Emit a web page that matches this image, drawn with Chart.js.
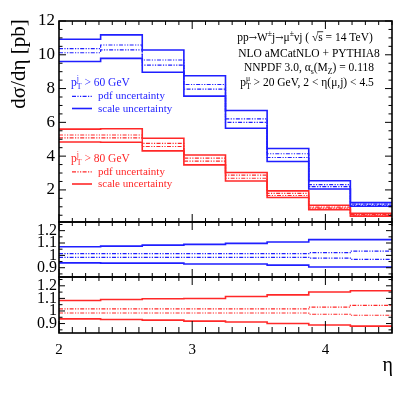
<!DOCTYPE html>
<html>
<head>
<meta charset="utf-8">
<script src="https://cdn.jsdelivr.net/npm/chart.js@4/dist/chart.umd.min.js"></script>
<style>
  html, body { margin: 0; padding: 0; background: #fff; }
  #wrap { position: relative; width: 415px; height: 399px; }
  #wrap canvas { position: absolute; left: 0; top: 0; }
</style>
</head>
<body>
<div id="wrap">
  <canvas id="cTop" width="415" height="399"></canvas>
  <canvas id="cMid" width="415" height="399"></canvas>
  <canvas id="cBot" width="415" height="399"></canvas>
</div>
<script>
// bin edges in eta (8 bins)
const edges = [2, 2.3125, 2.625, 2.9375, 3.25, 3.5625, 3.875, 4.1875, 4.5];
const xTicks = [2, 3, 4];
const yTicksTop = [2, 4, 6, 8, 10, 12];
const yTicksRatio = [0.9, 1, 1.1, 1.2];

// pT(j) > 60 GeV, dsigma/deta [pb]
const scaleUp60 = [10.92, 11.18, 10.28, 8.76, 6.70, 4.45, 2.54, 1.25];
const scaleDn60 = [9.60, 9.79, 8.97, 7.55, 5.65, 3.68, 2.05, 1.03];
const pdfUp60   = [10.37, 10.58, 9.69, 8.24, 6.20, 4.14, 2.31, 1.16];
const pdfDn60   = [10.12, 10.29, 9.39, 7.97, 6.00, 3.92, 2.20, 1.09];

// pT(j) > 80 GeV
const scaleUp80 = [5.60, 5.62, 5.06, 4.07, 3.03, 1.94, 1.09, 0.61];
const scaleDn80 = [4.84, 4.82, 4.31, 3.48, 2.53, 1.55, 0.83, 0.45];
const pdfUp80   = [5.25, 5.25, 4.75, 3.88, 2.87, 1.79, 0.98, 0.55];
const pdfDn80   = [5.08, 5.08, 4.57, 3.70, 2.69, 1.67, 0.92, 0.50];

// ratios to central value
const rScaleUp60 = [1.070, 1.075, 1.083, 1.089, 1.097, 1.108, 1.127, 1.127];
const rScaleDn60 = [0.939, 0.937, 0.937, 0.930, 0.930, 0.921, 0.906, 0.906];
const rPdfUp60   = [1.014, 1.014, 1.014, 1.014, 1.014, 1.014, 1.022, 1.034];
const rPdfDn60   = [0.984, 0.984, 0.984, 0.984, 0.984, 0.984, 0.978, 0.968];

const rScaleUp80 = [1.083, 1.091, 1.097, 1.099, 1.115, 1.128, 1.151, 1.161];
const rScaleDn80 = [0.937, 0.932, 0.927, 0.919, 0.913, 0.901, 0.888, 0.880];
const rPdfUp80   = [1.016, 1.016, 1.016, 1.016, 1.016, 1.016, 1.031, 1.044];
const rPdfDn80   = [0.984, 0.984, 0.984, 0.984, 0.984, 0.984, 0.974, 0.966];

const FONT = '"Liberation Serif", "Times New Roman", serif';
const ARROW_FONT = '"DejaVu Serif", serif';
const BLUE = '#1f1fff';
const RED = '#ff2828';
const PDF_DASH = [4, 1.4, 1.2, 1.4, 1.2, 1.4];

function steps(vals) {
  const pts = vals.map((v, i) => ({ x: edges[i], y: v }));
  pts.push({ x: edges[edges.length - 1], y: vals[vals.length - 1] });
  return pts;
}

function line(vals, color, pdf) {
  return {
    data: steps(vals),
    borderColor: color,
    borderWidth: pdf ? 1.2 : 1.6,
    borderDash: pdf ? PDF_DASH : [],
    stepped: true,
    pointRadius: 0,
    fill: false
  };
}

// text with sub/superscripts; y is the baseline
function rich(ctx, segs, x, y, size, align, color) {
  const small = size * 0.68;
  const f = (s, fam) => s.toFixed(1) + 'px ' + (fam || FONT);
  const setFont = s => { ctx.font = s.arrow ? f(size * 0.85, ARROW_FONT) : f(size); };
  const widths = segs.map(s => {
    if (s.t !== undefined) { setFont(s); return ctx.measureText(s.t).width; }
    ctx.font = f(small);
    return Math.max(ctx.measureText(s.sub || '').width, ctx.measureText(s.sup || '').width);
  });
  const total = widths.reduce((a, b) => a + b, 0);
  let cx = align === 'center' ? x - total / 2 : x;
  ctx.fillStyle = color;
  ctx.strokeStyle = color;
  ctx.textAlign = 'left';
  ctx.textBaseline = 'alphabetic';
  segs.forEach((s, i) => {
    if (s.t !== undefined) {
      setFont(s);
      ctx.fillText(s.t, cx, y);
      if (s.bar) {
        ctx.lineWidth = 0.8;
        ctx.beginPath();
        ctx.moveTo(cx - 1, y - size * 0.78);
        ctx.lineTo(cx + widths[i] + 0.5, y - size * 0.78);
        ctx.stroke();
      }
    } else {
      ctx.font = f(small);
      if (s.sub) ctx.fillText(s.sub, cx, y + size * 0.3);
      if (s.sup) ctx.fillText(s.sup, cx, y - size * 0.42);
    }
    cx += widths[i];
  });
}

function frameTicks(o) {
  return {
    id: 'frameTicks',
    afterDatasetsDraw(chart) {
      const { ctx, chartArea: a, scales: { x, y } } = chart;
      ctx.save();
      ctx.strokeStyle = '#000';
      ctx.lineWidth = 1;
      ctx.beginPath();
      for (let i = 20; i <= 45; i++) {
        const px = x.getPixelForValue(i / 10);
        const major = i % 10 === 0;
        const lt = major ? o.xTop * 2 : o.xTop;
        const lb = major ? o.xBot * 2 : o.xBot;
        ctx.moveTo(px, a.top); ctx.lineTo(px, a.top + lt);
        ctx.moveTo(px, a.bottom); ctx.lineTo(px, a.bottom - lb);
      }
      const k0 = Math.ceil(y.min / o.yStep - 1e-9);
      const k1 = Math.floor(y.max / o.yStep + 1e-9);
      for (let k = k0; k <= k1; k++) {
        const py = y.getPixelForValue(k * o.yStep);
        const len = k % o.yEvery === 0 ? o.yMajor : o.yMinor;
        ctx.moveTo(a.left, py); ctx.lineTo(a.left + len, py);
        ctx.moveTo(a.right, py); ctx.lineTo(a.right - len, py);
      }
      ctx.stroke();
      ctx.lineWidth = 1.6;
      ctx.strokeRect(a.left, a.top, a.right - a.left, a.bottom - a.top);
      ctx.restore();
    }
  };
}

const topText = {
  id: 'topText',
  afterDraw(chart) {
    const ctx = chart.ctx;
    ctx.save();
    // y title
    ctx.translate(19, 64);
    ctx.rotate(-Math.PI / 2);
    ctx.font = '21px ' + FONT;
    ctx.fillStyle = '#000';
    ctx.textAlign = 'center';
    ctx.textBaseline = 'middle';
    ctx.fillText('dσ/dη [pb]', 0, 0);
    ctx.restore();

    ctx.save();
    const s = 11.5;
    rich(ctx, [{ t: 'pp' }, { t: '→', arrow: true }, { t: 'W' }, { sup: '±' }, { t: 'j' }, { t: '→', arrow: true }, { t: 'μ' }, { sup: '±' }, { t: 'νj ( √' }, { t: 's', bar: true }, { t: ' = 14 TeV)' }], 305, 40.7, s, 'center', '#000');
    rich(ctx, [{ t: 'NLO aMCatNLO + PYTHIA8' }], 309, 56.5, s, 'center', '#000');
    rich(ctx, [{ t: 'NNPDF 3.0, α' }, { sub: 's' }, { t: '(M' }, { sub: 'Z' }, { t: ') = 0.118' }], 309, 70.5, s, 'center', '#000');
    rich(ctx, [{ t: 'p' }, { sub: 'T', sup: 'μ' }, { t: ' > 20 GeV, 2 < η(μ,j) < 4.5' }], 307, 85.5, s, 'center', '#000');

    // legends
    const legend = (color, title, y0) => {
      rich(ctx, [{ t: 'p' }, { sub: 'T', sup: 'j' }, { t: title }], 71, y0, 11.5, 'left', color);
      ctx.strokeStyle = color;
      ctx.lineWidth = 1.2;
      ctx.setLineDash(PDF_DASH);
      ctx.beginPath(); ctx.moveTo(72, y0 + 10.3); ctx.lineTo(92, y0 + 10.3); ctx.stroke();
      ctx.setLineDash([]);
      ctx.lineWidth = 1.6;
      ctx.beginPath(); ctx.moveTo(72, y0 + 22.5); ctx.lineTo(92, y0 + 22.5); ctx.stroke();
      ctx.font = '11px ' + FONT;
      ctx.fillStyle = color;
      ctx.textAlign = 'left';
      ctx.textBaseline = 'alphabetic';
      ctx.fillText('pdf uncertainty', 98, y0 + 13.3);
      ctx.fillText('scale uncertainty', 98, y0 + 25.5);
    };
    legend(BLUE, ' > 60 GeV', 86);
    legend(RED, ' > 80 GeV', 161.5);
    ctx.restore();
  }
};

const botText = {
  id: 'botText',
  afterDraw(chart) {
    const ctx = chart.ctx;
    ctx.save();
    ctx.font = '20px ' + FONT;
    ctx.fillStyle = '#000';
    ctx.textAlign = 'right';
    ctx.textBaseline = 'alphabetic';
    ctx.fillText('η', 393, 371);
    ctx.restore();
  }
};

function panel(id, top, bottom, yMin, yMax, yTicks, labelSize, labelPad, datasets, showX, plugins) {
  return new Chart(document.getElementById(id), {
    type: 'line',
    data: { datasets },
    options: {
      responsive: false,
      animation: false,
      events: [],
      layout: { padding: { left: 0, right: 23, top: top, bottom: 0 } },
      plugins: { legend: { display: false }, tooltip: { enabled: false } },
      scales: {
        x: {
          type: 'linear', min: 2, max: 4.5,
          grid: { display: false, drawTicks: false },
          border: { display: false },
          ticks: { display: showX, color: '#000', padding: 8, autoSkip: false, font: { family: FONT, size: 15 }, maxRotation: 0 },
          afterBuildTicks: s => { s.ticks = xTicks.map(v => ({ value: v })); },
          afterFit: s => { s.height = 399 - bottom; }
        },
        y: {
          type: 'linear', min: yMin, max: yMax,
          grid: { display: false, drawTicks: false },
          border: { display: false },
          ticks: {
            color: '#000', padding: labelPad, autoSkip: false,
            font: { family: FONT, size: labelSize },
            callback: v => String(+v.toFixed(2))
          },
          afterBuildTicks: s => { s.ticks = yTicks.map(v => ({ value: v })); },
          afterFit: s => { s.width = 59; }
        }
      }
    },
    plugins: plugins
  });
}

panel('cTop', 21, 222, 0.1, 12, yTicksTop, 17, 4, [
  line(scaleUp60, BLUE, false), line(scaleDn60, BLUE, false),
  line(pdfUp60, BLUE, true), line(pdfDn60, BLUE, true),
  line(scaleUp80, RED, false), line(scaleDn80, RED, false),
  line(pdfUp80, RED, true), line(pdfDn80, RED, true)
], false, [frameTicks({ xTop: 4, xBot: 4, yStep: 0.5, yEvery: 4, yMajor: 7, yMinor: 3.5 }), topText]);

panel('cMid', 222, 277, 0.825, 1.27, yTicksRatio, 16, 2, [
  line(rScaleUp60, BLUE, false), line(rScaleDn60, BLUE, false),
  line(rPdfUp60, BLUE, true), line(rPdfDn60, BLUE, true)
], false, [frameTicks({ xTop: 4, xBot: 4, yStep: 0.05, yEvery: 2, yMajor: 6, yMinor: 3.5 })]);

panel('cBot', 277, 333, 0.825, 1.27, yTicksRatio, 16, 2, [
  line(rScaleUp80, RED, false), line(rScaleDn80, RED, false),
  line(rPdfUp80, RED, true), line(rPdfDn80, RED, true)
], true, [frameTicks({ xTop: 4, xBot: 6, yStep: 0.05, yEvery: 2, yMajor: 6, yMinor: 3.5 }), botText]);
</script>
</body>
</html>
